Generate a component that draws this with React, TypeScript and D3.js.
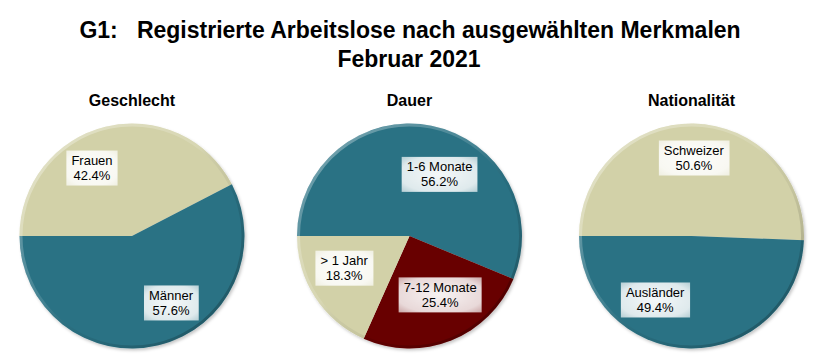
import React, { useEffect, useRef } from 'react';
import * as d3 from 'd3';

// Data
const genderLabels = ['Frauen', 'Männer'];
const genderValues = [42.4, 57.6];

const durationLabels = ['1-6 Monate', '7-12 Monate', '> 1 Jahr'];
const durationValues = [56.2, 25.4, 18.3];

const nationalityLabels = ['Schweizer', 'Ausländer'];
const nationalityValues = [50.6, 49.4];

const titleLines = ['G1:   Registrierte Arbeitslose nach ausgewählten Merkmalen', 'Februar 2021'];

const TEAL = '#2b7284';
const BEIGE = '#d2d1a8';
const DARKRED = '#680000';

const colorByLabel: Record<string, string> = {
  'Frauen': BEIGE,
  'Männer': TEAL,
  '1-6 Monate': TEAL,
  '7-12 Monate': DARKRED,
  '> 1 Jahr': BEIGE,
  'Schweizer': BEIGE,
  'Ausländer': TEAL,
};

// label placement tweaks (Excel "best fit" is not exactly on the mid-angle)
const labelNudge: Record<string, [number, number]> = {
  'Frauen': [-23, 2],
  'Männer': [22, -3],
  '1-6 Monate': [16, 9],
  '7-12 Monate': [4, -8],
  '> 1 Jahr': [-5, -7],
  'Schweizer': [1, -6],
  'Ausländer': [-35, -8],
};

interface PieSpec {
  title: string;
  labels: string[];
  values: number[];
  cx: number;
}

const pies: PieSpec[] = [
  { title: 'Geschlecht', labels: genderLabels, values: genderValues, cx: 132 },
  { title: 'Dauer', labels: durationLabels, values: durationValues, cx: 409.5 },
  { title: 'Nationalität', labels: nationalityLabels, values: nationalityValues, cx: 691.5 },
];

export default function App() {
  const svgRef = useRef<SVGSVGElement>(null);

  useEffect(() => {
    if (!svgRef.current) return;
    const width = 828;
    const height = 363;
    const radius = 112.5;
    const cy = 236;
    const font = '"Liberation Sans", Arial, sans-serif';

    const svg = d3.select(svgRef.current);
    svg.selectAll('*').remove();

    const defs = svg.append('defs');

    const rim = defs.append('linearGradient')
      .attr('id', 'rimGrad')
      .attr('x1', '0').attr('y1', '0').attr('x2', '1').attr('y2', '1');
    rim.append('stop').attr('offset', '0%').attr('stop-color', '#ffffff').attr('stop-opacity', 0.4);
    rim.append('stop').attr('offset', '45%').attr('stop-color', '#ffffff').attr('stop-opacity', 0.12);
    rim.append('stop').attr('offset', '60%').attr('stop-color', '#000000').attr('stop-opacity', 0.05);
    rim.append('stop').attr('offset', '100%').attr('stop-color', '#000000').attr('stop-opacity', 0.3);

    const boxGrad = defs.append('radialGradient').attr('id', 'boxGrad').attr('r', '0.75');
    boxGrad.append('stop').attr('offset', '0%').attr('stop-color', '#ffffff').attr('stop-opacity', 0.95);
    boxGrad.append('stop').attr('offset', '70%').attr('stop-color', '#ffffff').attr('stop-opacity', 0.85);
    boxGrad.append('stop').attr('offset', '100%').attr('stop-color', '#ffffff').attr('stop-opacity', 0.6);

    const shadow = defs.append('filter').attr('id', 'pieShadow')
      .attr('x', '-10%').attr('y', '-10%').attr('width', '125%').attr('height', '125%');
    shadow.append('feDropShadow')
      .attr('dx', 1.5).attr('dy', 2).attr('stdDeviation', 1.5)
      .attr('flood-color', '#000').attr('flood-opacity', 0.22);

    svg.append('rect').attr('width', width).attr('height', height).attr('fill', '#ffffff');

    // Title
    svg.append('text')
      .attr('x', 410).attr('y', 38)
      .attr('text-anchor', 'middle')
      .style('font-family', font).style('font-size', '23px').style('font-weight', 'bold')
      .attr('xml:space', 'preserve')
      .style('white-space', 'pre')
      .text(titleLines[0]);
    svg.append('text')
      .attr('x', 409).attr('y', 67)
      .attr('text-anchor', 'middle')
      .style('font-family', font).style('font-size', '23px').style('font-weight', 'bold')
      .text(titleLines[1]);

    const pieGen = d3.pie<number>()
      .sort(null)
      .startAngle(-Math.PI / 2)
      .endAngle(Math.PI * 1.5);

    const arc = d3.arc<d3.PieArcDatum<number>>().innerRadius(0).outerRadius(radius);
    const rimArc = d3.arc().innerRadius(radius - 3).outerRadius(radius).startAngle(0).endAngle(Math.PI * 2);
    const labelArc = d3.arc<d3.PieArcDatum<number>>().innerRadius(radius * 0.64).outerRadius(radius * 0.64);

    pies.forEach(spec => {
      svg.append('text')
        .attr('x', spec.cx).attr('y', 106)
        .attr('text-anchor', 'middle')
        .style('font-family', font).style('font-size', '16px').style('font-weight', 'bold')
        .text(spec.title);

      const g = svg.append('g').attr('transform', `translate(${spec.cx},${cy})`);
      const arcs = pieGen(spec.values);

      const slices = g.append('g').attr('filter', 'url(#pieShadow)');
      slices.selectAll('path')
        .data(arcs)
        .enter()
        .append('path')
        .attr('d', arc)
        .attr('fill', (_d, i) => colorByLabel[spec.labels[i]]);

      g.append('path')
        .attr('d', rimArc({} as any) as string)
        .attr('fill', 'url(#rimGrad)');

      arcs.forEach((a, i) => {
        const label = spec.labels[i];
        const [lx, ly] = labelArc.centroid(a);
        const [nx, ny] = labelNudge[label] || [0, 0];
        const x = lx + nx;
        const y = ly + ny;

        const lg = g.append('g').attr('transform', `translate(${x},${y})`);
        const box = lg.append('rect').attr('fill', 'url(#boxGrad)');
        const t = lg.append('text')
          .attr('text-anchor', 'middle')
          .style('font-family', font).style('font-size', '13px').style('fill', '#000');
        t.append('tspan').attr('x', 0).attr('y', -3).text(label);
        t.append('tspan').attr('x', 0).attr('y', 12).text(`${spec.values[i].toFixed(1)}%`);

        const bb = (t.node() as SVGTextElement).getBBox();
        const padX = 5;
        box.attr('x', bb.x - padX).attr('y', -17.5)
          .attr('width', bb.width + padX * 2).attr('height', 35);
      });
    });
  }, []);

  return (
    <div style={{ position: 'absolute', left: 0, top: 0, width: 828, height: 363 }}>
      <svg ref={svgRef} width={828} height={363} viewBox="0 0 828 363" style={{ display: 'block' }} />
    </div>
  );
}
